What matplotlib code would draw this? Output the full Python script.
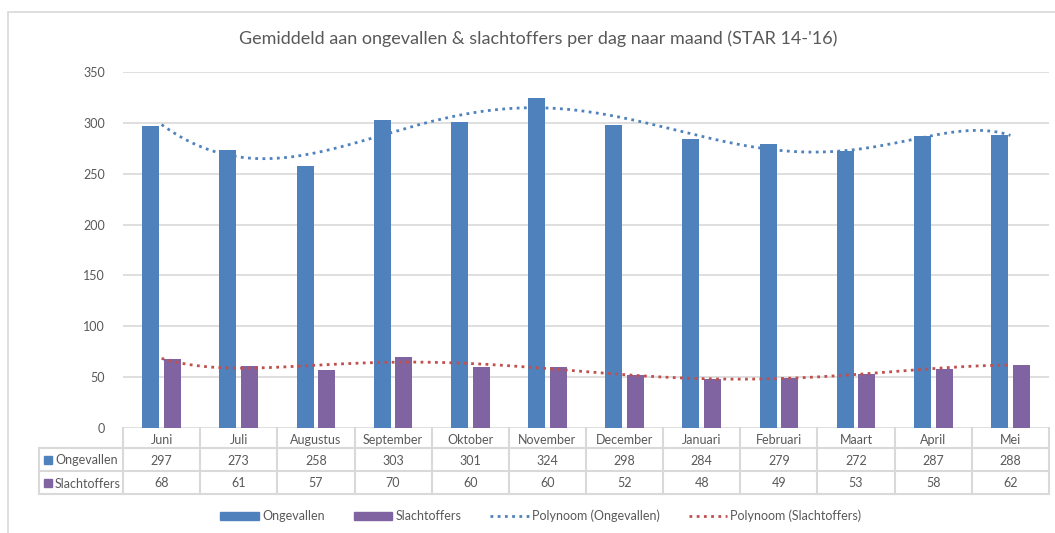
import numpy as np
import matplotlib
matplotlib.use("Agg")
import matplotlib.pyplot as plt
from matplotlib.patches import Rectangle, Patch
from matplotlib.lines import Line2D
from matplotlib.transforms import blended_transform_factory

plt.rcParams['font.family'] = ['Lato', 'DejaVu Sans']

months = ["Juni", "Juli", "Augustus", "September", "Oktober", "November",
          "December", "Januari", "Februari", "Maart", "April", "Mei"]
ongevallen = [297, 273, 258, 303, 301, 324, 298, 284, 279, 272, 287, 288]
slachtoffers = [68, 61, 57, 70, 60, 60, 52, 48, 49, 53, 58, 62]
series_names = ["Ongevallen", "Slachtoffers"]
title = "Gemiddeld aan ongevallen & slachtoffers per dag naar maand (STAR 14-'16)"

C_BLUE = "#4F81BD"
C_PURP = "#8064A2"
C_RED = "#C0504D"
C_GRID = "#D9D9D9"
C_TXT = "#595959"

W, H = 1055, 533
fig = plt.figure(figsize=(W / 100, H / 100), dpi=100)
fig.patch.set_facecolor("white")

# chart border (left/top visible)
fig.add_artist(Rectangle((8 / W, -0.1), 1.2, (H - 12) / H + 0.1, transform=fig.transFigure,
                         fill=False, edgecolor=C_GRID, linewidth=1.2))

L, R, T, B = 123, 1049, 72, 428
ax = fig.add_axes([L / W, (H - B) / H, (R - L) / W, (B - T) / H])
n = len(months)
x = np.arange(1, n + 1)
ax.set_xlim(0.5, n + 0.5)
ax.set_ylim(0, 350)
ax.set_yticks(np.arange(0, 351, 50))
ax.yaxis.grid(True, color=C_GRID, linewidth=1.2)
ax.set_axisbelow(True)
for s in ax.spines.values():
    s.set_visible(False)
ax.tick_params(axis='y', length=0, pad=13, labelsize=9, labelcolor=C_TXT)
ax.tick_params(axis='x', length=0, labelbottom=False)

bw = 0.22
ax.bar(x - 0.14, ongevallen, width=bw, color=C_BLUE, zorder=2)
ax.bar(x + 0.14, slachtoffers, width=bw, color=C_PURP, zorder=2)

# polynomial trendlines (order 6)
xs = np.linspace(1, n, 300)
for vals, col in [(ongevallen, C_BLUE), (slachtoffers, C_RED)]:
    p = np.polyfit(x, vals, 6)
    ax.plot(xs, np.polyval(p, xs), color=col, linewidth=2.0,
            linestyle=(0, (1, 1.6)), zorder=3)

# data table
tr = blended_transform_factory(ax.transData, fig.transFigure)
def fy(py):
    return (H - py) / H
r0, r1, r2, r3 = 428, 448, 471, 494
xl = 39
for b in np.arange(0.5, n + 1.0, 1.0):
    ax.add_line(Line2D([b, b], [fy(r0), fy(r3)], transform=tr, color=C_GRID,
                       linewidth=1.5, clip_on=False))
for ry in (r1, r2, r3):
    fig.add_artist(Line2D([xl / W, R / W], [fy(ry), fy(ry)], color=C_GRID, linewidth=1.5))
fig.add_artist(Line2D([xl / W, xl / W], [fy(r1), fy(r3)], color=C_GRID, linewidth=1.5))

for i, m in enumerate(months):
    ax.text(x[i], fy((r0 + r1) / 2 + 2.5), m, transform=tr, ha='center', va='center',
            fontsize=9, color=C_TXT)
    ax.text(x[i], fy((r1 + r2) / 2 + 1.5), str(ongevallen[i]), transform=tr, ha='center',
            va='center', fontsize=9, color=C_TXT)
    ax.text(x[i], fy((r2 + r3) / 2 + 0.5), str(slachtoffers[i]), transform=tr, ha='center',
            va='center', fontsize=9, color=C_TXT)

for (name, col, ry0, ry1) in [(series_names[0], C_BLUE, r1, r2), (series_names[1], C_PURP, r2, r3)]:
    cy = (ry0 + ry1) / 2
    fig.add_artist(Rectangle((44 / W, fy(cy + 4)), 8 / W, 8 / H, color=col))
    fig.text(55 / W, fy(cy + 1), name, ha='left', va='center', fontsize=9, color=C_TXT)

fig.text(538 / W, fy(39), title, ha='center', va='center', fontsize=13, color=C_TXT)

handles = [Patch(color=C_BLUE), Patch(color=C_PURP),
           Line2D([], [], color=C_BLUE, linewidth=2.0, linestyle=(0, (1, 1.6))),
           Line2D([], [], color=C_RED, linewidth=2.0, linestyle=(0, (1, 1.6)))]
labels = ["Ongevallen", "Slachtoffers", "Polynoom (Ongevallen)", "Polynoom (Slachtoffers)"]
leg = fig.legend(handles, labels, loc='center', bbox_to_anchor=(541 / W, fy(516)), ncol=4,
                 frameon=False, fontsize=9, handlelength=3.1, handleheight=0.56,
                 handletextpad=0.25, columnspacing=2.3, labelcolor=C_TXT,
                 borderpad=0, borderaxespad=0)

fig.savefig("out.png", dpi=100, facecolor="white")
